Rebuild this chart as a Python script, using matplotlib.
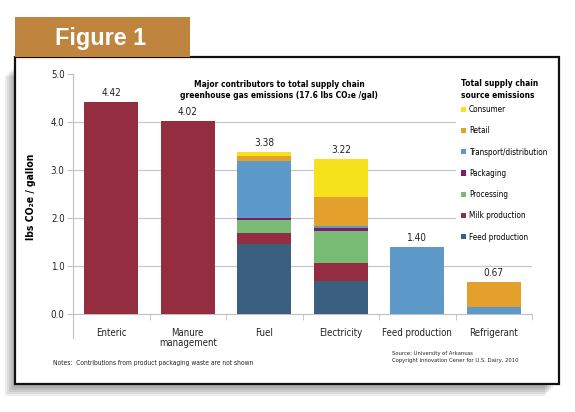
import matplotlib
matplotlib.use("Agg")
import matplotlib.pyplot as plt
from matplotlib.patches import Rectangle, Patch
import numpy as np

categories = ["Enteric", "Manure\nmanagement", "Fuel", "Electricity", "Feed production", "Refrigerant"]
totals = [4.42, 4.02, 3.38, 3.22, 1.40, 0.67]

series_names = ["Feed production", "Milk production", "Processing", "Packaging",
                "Transport/distribution", "Retail", "Consumer"]
feed_production = [0, 0, 1.46, 0.68, 0, 0]
milk_production = [4.42, 4.02, 0.23, 0.38, 0, 0]
processing = [0, 0, 0.27, 0.67, 0, 0]
packaging = [0, 0, 0.03, 0.07, 0, 0]
transport = [0, 0, 1.20, 0.03, 1.40, 0.15]
retail = [0, 0, 0.11, 0.61, 0, 0.52]
consumer = [0, 0, 0.08, 0.78, 0, 0]
yticks = [0.0, 1.0, 2.0, 3.0, 4.0, 5.0]

colors = ["#3b5f7e", "#952d40", "#78bb75", "#7b1f6a", "#5e9ac9", "#e3a12b", "#f6e21c"]

plt.rcParams['font.family'] = ["DejaVu Sans"]
plt.rcParams['font.stretch'] = 'condensed'

W, H = 575, 412
fig = plt.figure(figsize=(W / 100, H / 100), dpi=100)

def fx(px):
    return px / W

def fy(py):
    return 1 - py / H

# shadow (soft, down-left)
for k in range(5):
    off = 2 + k * 2
    fig.patches.append(Rectangle((fx(15 - off), fy(384 + off + 2)), fx(540), (384 - 64) / H,
                                 transform=fig.transFigure, facecolor="#000000", alpha=0.07,
                                 edgecolor="none", zorder=0))
# main box
fig.patches.append(Rectangle((fx(15), fy(384)), fx(544), (384 - 57) / H,
                             transform=fig.transFigure, facecolor="white",
                             edgecolor="#111111", linewidth=1.6, zorder=1))
# tab
fig.patches.append(Rectangle((fx(15), fy(57)), fx(175), (57 - 17) / H,
                             transform=fig.transFigure, facecolor="#bf853f",
                             edgecolor="none", zorder=1))
fig.text(fx(55), fy(38), "Figure 1", color="white", fontsize=16.8, fontweight="bold",
         family=["Liberation Sans", "DejaVu Sans"], fontstretch="normal",
         va="center", ha="left", zorder=3)

ax = fig.add_axes([fx(73), fy(338), fx(532 - 73), (338 - 74) / H], zorder=2)
ax.set_facecolor("none")
x = np.arange(len(categories))
series = [feed_production, milk_production, processing, packaging, transport, retail, consumer]
bottom = np.zeros(len(categories))
for name, vals, c in zip(series_names, series, colors):
    v = np.array(vals, dtype=float)
    ax.bar(x, v, bottom=bottom, width=0.70, color=c, edgecolor="none", zorder=3)
    bottom += v

for xi, t in zip(x, totals):
    ax.annotate(f"{t:.2f}", (xi, t), xytext=(0, 3), textcoords="offset points",
                ha="center", va="bottom", fontsize=7.2, color="#222222")

ax.set_xlim(-0.5, len(categories) - 0.5)
ax.set_ylim(-0.5, 5.0)
ax.set_yticks(yticks)
ax.set_yticklabels([f"{v:.1f}" for v in yticks], fontsize=7, color="#222222")
for v in yticks[1:-1]:
    xmax = 1.0 if v <= 1.0 else 0.832
    ax.axhline(v, xmin=0, xmax=xmax, color="#c8c8c8", lw=0.9, zorder=1)

for s in ["top", "right"]:
    ax.spines[s].set_visible(False)
ax.spines["left"].set_color("#c0c0c0")
ax.spines["left"].set_bounds(-0.5, 5.0)
ax.spines["bottom"].set_position(("data", 0))
ax.spines["bottom"].set_color("#c0c0c0")
ax.tick_params(axis="y", length=4, color="#c0c0c0", pad=2)

ax.set_xticks(x)
ax.set_xticklabels(categories, fontsize=6.9, color="#222222", linespacing=1.05)
ax.set_xticks(np.arange(len(categories) + 1) - 0.5, minor=True)
ax.tick_params(axis="x", which="major", length=0, pad=10)
ax.tick_params(axis="x", which="minor", length=4, color="#c0c0c0", direction="out")

ax.set_ylabel("lbs CO\u2082e / gallon", fontsize=7.5, fontweight="bold")
ax.yaxis.set_label_coords((36 - 73) / (532 - 73), (338 - 197) / (338 - 74))

fig.text(fx(279), fy(80), "Major contributors to total supply chain\ngreenhouse gas emissions (17.6 lbs CO\u2082e /gal)",
         ha="center", va="top", fontsize=6, fontweight="bold", linespacing=1.3, zorder=3)

fig.text(fx(461), fy(79.5), "Total supply chain\nsource emissions",
         ha="left", va="top", fontsize=6, fontweight="bold", linespacing=1.3, zorder=3)

handles = [Patch(facecolor=c, edgecolor="none", label=n) for n, c in zip(series_names, colors)][::-1]
leg = ax.legend(handles=handles, loc="upper left",
                bbox_to_anchor=((461 - 73) / (532 - 73), (338 - 105) / (338 - 74)),
                frameon=False, fontsize=5.9,
                handlelength=0.6, handleheight=0.6, handletextpad=0.35, labelspacing=1.5,
                borderpad=0, borderaxespad=0)

fig.text(fx(53), fy(363), "Notes:  Contributions from product packaging waste are not shown",
         ha="left", va="center", fontsize=4.8, color="#222222", zorder=3)
fig.text(fx(392), fy(357), "Source: University of Arkansas\nCopyright Innovation Cener for U.S. Dairy, 2010",
         ha="left", va="center", fontsize=4.2, color="#222222", linespacing=1.45, zorder=3)

fig.savefig("out.png", dpi=100)
